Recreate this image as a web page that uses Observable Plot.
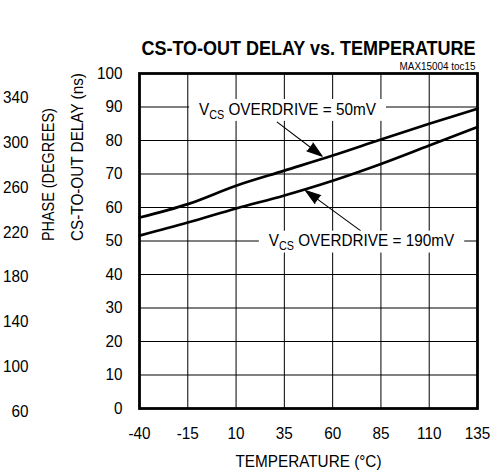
<!DOCTYPE html>
<html><head><meta charset="utf-8">
<script src="https://cdn.jsdelivr.net/npm/d3@7"></script>
<script src="https://cdn.jsdelivr.net/npm/@observablehq/plot@0.6"></script>
<style>
body{margin:0;background:#fff;}
#wrap{position:relative;width:503px;height:472px;overflow:hidden;}
#wrap svg{position:absolute;top:0;left:0;}
</style></head><body><div id="wrap"></div>
<script>
// ---- data ----
const temps = [-40, -15, 10, 35, 60, 85, 110, 135];
const delay50 = [57, 61, 66.5, 71, 75.5, 80.3, 85, 89.5];
const delay190 = [51.6, 55.5, 59.7, 63.6, 68, 73, 78.5, 84];
const delayTicks = [0, 10, 20, 30, 40, 50, 60, 70, 80, 90, 100];
const phaseTicks = [60, 100, 140, 180, 220, 260, 300, 340];
const labelText = ["VCS OVERDRIVE = 50mV", "VCS OVERDRIVE = 190mV"];
const labelX = [36.6, 74.9];
const labelY = [89.3, 50];
const arrowFromX = [31.3, 74.4];
const arrowFromY = [85.5, 53.1];
const arrowToX = [54.6, 45.9];
const arrowToY = [75.3, 65.1];
const title = "CS-TO-OUT DELAY vs. TEMPERATURE";
const subtitle = "MAX15004 toc15";
const xLabel = "TEMPERATURE (°C)";
const yLabel = "CS-TO-OUT DELAY (ns)";
const leftLabel = "PHASE (DEGREES)";

const FONT = '"Liberation Sans",Arial,Helvetica,sans-serif';
const NARROW = 0.9;

const rows50 = temps.map((t, i) => ({t, d: delay50[i]}));
const rows190 = temps.map((t, i) => ({t, d: delay190[i]}));
const labels = labelText.map((s, i) => ({x: labelX[i], y: labelY[i], s}));
const arrows = arrowFromX.map((v, i) => ({x1: v, y1: arrowFromY[i], x2: arrowToX[i], y2: arrowToY[i]}));

const main = Plot.plot({
  width: 503, height: 472,
  marginLeft: 139, marginRight: 26, marginTop: 73, marginBottom: 64,
  style: {fontFamily: FONT, fontSize: "17px", color: "black", background: "transparent"},
  x: {domain: [-40, 135]},
  y: {domain: [0, 100]},
  marks: [
    Plot.gridX(temps, {stroke: "black", strokeOpacity: 1, strokeWidth: 1}),
    Plot.gridY(delayTicks, {stroke: "black", strokeOpacity: 1, strokeWidth: 1}),
    Plot.line(rows50, {x: "t", y: "d", stroke: "black", strokeWidth: 2.7, curve: "monotone-x"}),
    Plot.line(rows190, {x: "t", y: "d", stroke: "black", strokeWidth: 2.7, curve: "monotone-x"}),
    Plot.arrow(arrows, {x1: "x1", y1: "y1", x2: "x2", y2: "y2", stroke: "black", fill: "black", strokeWidth: 1.1, headLength: 22, headAngle: 36}),
    Plot.text(labels, {x: "x", y: "y", text: "s", fontSize: 17, fill: "black"}),
    Plot.frame({stroke: "black", strokeWidth: 2.8}),
    Plot.axisX(temps, {tickSize: 0, tickPadding: 18, label: null, fontSize: 17, tickFormat: d => String(d)}),
    Plot.axisY(delayTicks, {tickSize: 0, tickPadding: 17, label: null, fontSize: 17, tickFormat: d => String(d)}),
    Plot.text([xLabel], {text: d => d, frameAnchor: "bottom", dy: 58, fontSize: 17}),
    Plot.text([yLabel], {text: d => d, frameAnchor: "left", rotate: -90, dx: -62, fontSize: 17}),
    Plot.text([leftLabel], {text: d => d, frameAnchor: "left", rotate: -90, dx: -91, fontSize: 16}),
    Plot.text([title], {text: d => d, frameAnchor: "top", dy: -33, fontSize: 20, fontWeight: "bold"}),
    Plot.text([subtitle], {text: d => d, frameAnchor: "top-right", dx: -2, dy: -11, fontSize: 11, textAnchor: "end"})
  ]
});

const left = Plot.plot({
  width: 40, height: 472,
  marginLeft: 28, marginRight: 12, marginTop: 97, marginBottom: 61,
  style: {fontFamily: FONT, fontSize: "17px", color: "black", background: "transparent"},
  y: {domain: [60, 340]},
  marks: [Plot.axisY(phaseTicks, {tickSize: 0, tickPadding: 0, label: null, fontSize: 17, tickFormat: d => String(d)})]
});

const wrap = document.getElementById("wrap");
wrap.appendChild(main);
wrap.appendChild(left);

// condense all text horizontally (narrow face like the original)
[main, left].forEach(svg => svg.querySelectorAll("text").forEach(t => {
  let tr = t.getAttribute("transform");
  if (!tr) {
    const x = +(t.getAttribute("x") || 0), y = +(t.getAttribute("y") || 0);
    t.removeAttribute("x"); t.removeAttribute("y");
    tr = `translate(${x},${y})`;
  }
  t.setAttribute("transform", tr + ` scale(${NARROW},1)`);
}));

// subscripts + white label boxes
const ns = "http://www.w3.org/2000/svg";
main.querySelectorAll("text").forEach(t => {
  const s = t.textContent;
  if (!s.startsWith("VCS")) return;
  while (t.firstChild) t.removeChild(t.firstChild);
  const a = document.createElementNS(ns, "tspan"); a.textContent = "V";
  const b = document.createElementNS(ns, "tspan"); b.textContent = "CS"; b.setAttribute("font-size", "12"); b.setAttribute("dy", "4");
  const c = document.createElementNS(ns, "tspan"); c.textContent = s.slice(3); c.setAttribute("dy", "-4");
  t.append(a, b, c);
  const bb = t.getBBox();
  const r = document.createElementNS(ns, "rect");
  r.setAttribute("x", bb.x - 11); r.setAttribute("y", bb.y);
  r.setAttribute("width", bb.width + 22); r.setAttribute("height", bb.height);
  r.setAttribute("fill", "white");
  r.setAttribute("transform", t.getAttribute("transform"));
  t.parentNode.insertBefore(r, t);
});
</script></body></html>
